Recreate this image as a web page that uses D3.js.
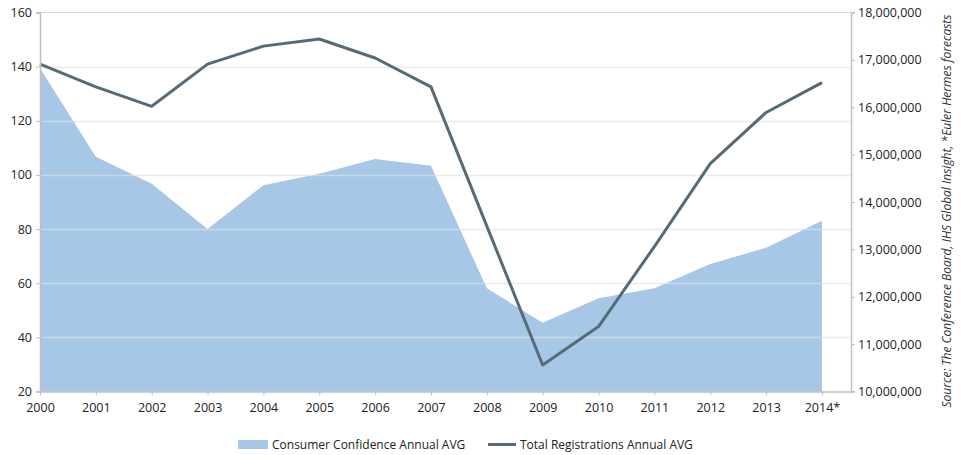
<!DOCTYPE html>
<html>
<head>
<meta charset="utf-8">
<script src="https://cdn.jsdelivr.net/npm/d3@7"></script>
<style>
  html, body { margin: 0; padding: 0; background: #fff; }
  svg { display: block; font-family: "Open Sans", "Noto Sans", sans-serif; }
</style>
</head>
<body>
<svg id="chart" width="967" height="455"></svg>
<script>
const years = ["2000","2001","2002","2003","2004","2005","2006","2007","2008","2009","2010","2011","2012","2013","2014*"];
const confidence = [139.4, 106.7, 96.7, 80.0, 96.2, 100.4, 105.9, 103.4, 58.1, 45.4, 54.4, 58.1, 67.1, 73.1, 83.1];
const registrations = [16910000, 16430000, 16020000, 16910000, 17290000, 17440000, 17040000, 16430000, 13490000, 10560000, 11370000, 13060000, 14810000, 15890000, 16520000];
const leftTicks = [20, 40, 60, 80, 100, 120, 140, 160];
const rightTicks = [10000000, 11000000, 12000000, 13000000, 14000000, 15000000, 16000000, 17000000, 18000000];
const seriesNames = ["Consumer Confidence Annual AVG", "Total Registrations Annual AVG"];
const sourceText = "Source: The Conference Board, IHS Global Insight, *Euler Hermes forecasts";

(function () {
const svg = d3.select("#chart");
const pLeft = 40, pRight = 851, pTop = 12.5, pBottom = 391.5;
const areaColor = "#a7c7e7", lineColor = "#566b77", axisColor = "#bfbfbf";

const x = d3.scaleLinear().domain([0, 14.52]).range([pLeft, pRight]);
const yL = d3.scaleLinear().domain([20, 160]).range([pBottom, pTop]);
const yR = d3.scaleLinear().domain([10000000, 18000000]).range([pBottom, pTop]);

// area
svg.append("path")
  .datum(confidence)
  .attr("fill", areaColor)
  .attr("d", d3.area().x((d, i) => x(i)).y0(pBottom).y1(d => yL(d)));

// gridlines (drawn over area, semi-transparent)
svg.append("g").selectAll("line")
  .data(leftTicks.filter(t => t > 20 && t < 160))
  .join("line")
  .attr("x1", pLeft).attr("x2", pRight)
  .attr("y1", d => Math.round(yL(d)) + 0.5).attr("y2", d => Math.round(yL(d)) + 0.5)
  .attr("stroke", "#e0e0e0").attr("stroke-opacity", 0.65).attr("stroke-width", 1.5);

// top border line
svg.append("line").attr("x1", pLeft).attr("x2", pRight).attr("y1", yL(160)).attr("y2", yL(160))
  .attr("stroke", "#d9d9d9").attr("stroke-width", 1);

// line
svg.append("path")
  .datum(registrations)
  .attr("fill", "none")
  .attr("stroke", lineColor)
  .attr("stroke-width", 3)
  .attr("stroke-linejoin", "round")
  .attr("d", d3.line().x((d, i) => x(i)).y(d => yR(d)));

// axes
const axL = svg.append("g").attr("transform", `translate(${pLeft},0)`)
  .call(d3.axisLeft(yL).tickValues(leftTicks).tickSize(4).tickPadding(4));
const axR = svg.append("g").attr("transform", `translate(${pRight},0)`)
  .call(d3.axisRight(yR).tickValues(rightTicks).tickSize(4).tickPadding(3).tickFormat(d3.format(",")));
const axB = svg.append("g").attr("transform", `translate(0,${pBottom})`)
  .call(d3.axisBottom(x).tickValues(d3.range(years.length)).tickSize(4).tickPadding(8).tickFormat(i => years[i]));

[axL, axR, axB].forEach(g => {
  g.select(".domain").attr("stroke", axisColor).attr("stroke-width", 1.5);
  g.selectAll(".tick line").attr("stroke", axisColor);
  g.selectAll(".tick text").attr("fill", "#222").attr("font-size", 12.5)
    .attr("font-family", '"Open Sans", "Noto Sans", sans-serif');
});
axB.select(".domain").attr("d", `M${pLeft},0.5H${pRight}`);

// source text
svg.append("text")
  .attr("transform", `translate(951,211) rotate(-90)`)
  .attr("text-anchor", "middle")
  .attr("font-size", 12)
  .attr("font-style", "italic")
  .attr("fill", "#333")
  .text(sourceText);

// legend
const lg = svg.append("g");
lg.append("rect").attr("x", 238).attr("y", 440).attr("width", 30).attr("height", 9).attr("fill", areaColor);
lg.append("text").attr("x", 272).attr("y", 449).attr("font-size", 12).attr("fill", "#222").text(seriesNames[0]);
lg.append("line").attr("x1", 488).attr("x2", 516).attr("y1", 444.5).attr("y2", 444.5)
  .attr("stroke", lineColor).attr("stroke-width", 3);
lg.append("text").attr("x", 520).attr("y", 449).attr("font-size", 12).attr("fill", "#222").text(seriesNames[1]);
})();
</script>
</body>
</html>
